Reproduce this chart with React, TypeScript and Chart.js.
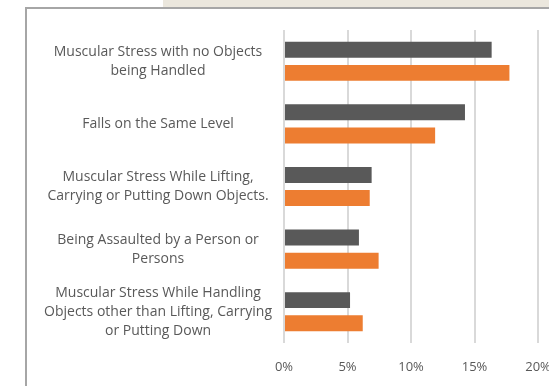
import React, { useEffect, useRef } from "react";
import { Chart, registerables } from "chart.js";
Chart.register(...registerables);

const categories: string[][] = [
  ["Muscular Stress with no Objects", "being Handled"],
  ["Falls on the Same Level"],
  ["Muscular Stress While Lifting,", "Carrying or Putting Down Objects."],
  ["Being Assaulted by a Person or", "Persons"],
  ["Muscular Stress While Handling", "Objects other than Lifting, Carrying", "or Putting Down"],
];
const seriesDark = [16.35, 14.25, 6.9, 5.9, 5.2];
const seriesOrange = [17.75, 11.9, 6.75, 7.45, 6.2];
const xTickValues = [0, 5, 10, 15, 20];

const FONT = "'Open Sans'";

export default function App() {
  const ref = useRef<HTMLCanvasElement | null>(null);
  useEffect(() => {
    document.body.style.margin = "0";
    const ctx = ref.current!;
    const chart = new Chart(ctx, {
      type: "bar",
      data: {
        labels: categories,
        datasets: [
          {
            data: seriesDark,
            backgroundColor: "#595959",
            barPercentage: 0.69,
            categoryPercentage: 0.74,
          },
          {
            data: seriesOrange,
            backgroundColor: "#ED7D31",
            barPercentage: 0.69,
            categoryPercentage: 0.74,
          },
        ],
      },
      options: {
        indexAxis: "y",
        animation: false,
        responsive: false,
        maintainAspectRatio: false,
        layout: { padding: { left: 0, right: 19, top: 21, bottom: 0 } },
        plugins: { legend: { display: false }, tooltip: { enabled: false } },
        scales: {
          x: {
            min: xTickValues[0],
            max: xTickValues[xTickValues.length - 1],
            afterBuildTicks: (scale: any) => {
              scale.ticks = xTickValues.map((v) => ({ value: v }));
            },
            afterFit: (scale: any) => {
              scale.height = 43;
              scale.paddingLeft = 0;
              scale.paddingRight = 0;
            },
            grid: { color: "#d9d9d9", lineWidth: 2, drawTicks: false },
            border: { display: false },
            ticks: {
              padding: 16,
              color: "#595959",
              font: { family: FONT, size: 13 },
              callback: (v: any) => v + "%",
            },
          },
          y: {
            afterFit: (scale: any) => {
              scale.width = 257;
              scale.paddingTop = 0;
              scale.paddingBottom = 0;
            },
            grid: { display: false, drawTicks: false },
            border: { display: false },
            ticks: {
              crossAlign: "center",
              padding: 12,
              color: "#595959",
              font: { family: FONT, size: 14, lineHeight: 1.35 },
            },
          },
        },
      },
    });
    return () => chart.destroy();
  }, []);
  return (
    <div style={{ position: "fixed", left: 0, top: 0, width: 549, height: 386, overflow: "hidden", background: "#fff" }}>
      <div style={{ position: "absolute", left: 163, top: 0, width: 400, height: 7, background: "#ebe7dd" }} />
      <div
        style={{
          position: "absolute",
          left: 25,
          top: 7,
          width: 600,
          height: 400,
          borderLeft: "2px solid #a6a6a6",
          borderTop: "2px solid #a6a6a6",
        }}
      />
      <canvas ref={ref} width={530} height={377} style={{ position: "absolute", left: 27, top: 9, width: 530, height: 377 }} />
    </div>
  );
}
